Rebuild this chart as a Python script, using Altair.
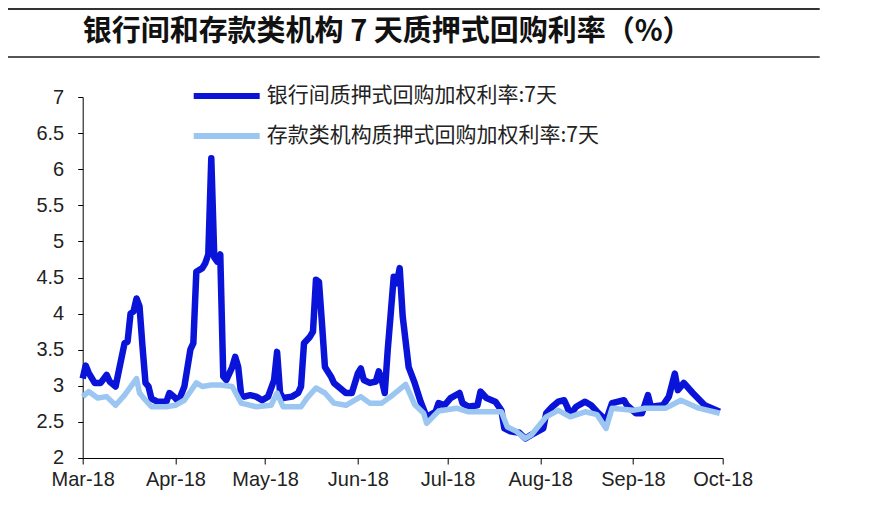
import altair as alt
import pandas as pd

title_text = "银行间和存款类机构 7 天质押式回购利率（%）"
s1 = "银行间质押式回购加权利率:7天"
s2 = "存款类机构质押式回购加权利率:7天"

ib_dates = [
    "2018-03-01", "2018-03-02", "2018-03-03", "2018-03-05", "2018-03-07", "2018-03-09",
    "2018-03-10", "2018-03-12", "2018-03-15", "2018-03-16", "2018-03-17", "2018-03-18",
    "2018-03-19", "2018-03-20", "2018-03-21", "2018-03-22", "2018-03-23", "2018-03-24",
    "2018-03-26", "2018-03-29", "2018-03-30", "2018-04-01", "2018-04-02", "2018-04-04",
    "2018-04-06", "2018-04-07", "2018-04-08", "2018-04-10", "2018-04-11", "2018-04-12",
    "2018-04-13", "2018-04-14", "2018-04-15", "2018-04-16", "2018-04-17", "2018-04-18",
    "2018-04-20", "2018-04-21", "2018-04-22", "2018-04-23", "2018-04-24", "2018-04-26",
    "2018-04-28", "2018-04-30", "2018-05-02", "2018-05-04", "2018-05-05", "2018-05-06",
    "2018-05-07", "2018-05-10", "2018-05-12", "2018-05-13", "2018-05-14", "2018-05-16",
    "2018-05-17", "2018-05-18", "2018-05-19", "2018-05-20", "2018-05-21", "2018-05-23",
    "2018-05-24", "2018-05-26", "2018-05-28", "2018-05-30", "2018-06-01", "2018-06-02",
    "2018-06-03", "2018-06-05", "2018-06-07", "2018-06-08", "2018-06-09", "2018-06-10",
    "2018-06-11", "2018-06-12", "2018-06-13", "2018-06-14", "2018-06-15", "2018-06-16",
    "2018-06-18", "2018-06-20", "2018-06-22", "2018-06-24", "2018-06-27", "2018-06-28",
    "2018-06-30", "2018-07-02", "2018-07-05", "2018-07-06", "2018-07-08", "2018-07-11",
    "2018-07-12", "2018-07-14", "2018-07-17", "2018-07-19", "2018-07-20", "2018-07-22",
    "2018-07-25", "2018-07-27", "2018-07-29", "2018-08-02", "2018-08-03", "2018-08-05",
    "2018-08-07", "2018-08-09", "2018-08-10", "2018-08-11", "2018-08-13", "2018-08-16",
    "2018-08-18", "2018-08-20", "2018-08-23", "2018-08-25", "2018-08-27", "2018-08-29",
    "2018-08-30", "2018-09-02", "2018-09-04", "2018-09-06", "2018-09-07", "2018-09-11",
    "2018-09-13", "2018-09-15", "2018-09-16", "2018-09-18", "2018-09-21", "2018-09-25",
    "2018-09-30",
]
ib_vals = [
    3.10, 3.28, 3.18, 3.04, 3.04, 3.15,
    3.06, 2.99, 3.59, 3.61, 4.00, 4.03,
    4.21, 4.10, 3.54, 3.04, 2.99, 2.82,
    2.78, 2.78, 2.90, 2.83, 2.78, 2.99,
    3.50, 3.59, 4.58, 4.63, 4.70, 4.82,
    6.15, 4.78, 4.72, 4.82, 3.13, 3.08,
    3.26, 3.40, 3.26, 2.87, 2.85, 2.87,
    2.85, 2.80, 2.85, 3.08, 3.47, 2.90,
    2.83, 2.85, 2.90, 2.99, 3.59, 3.68,
    3.75, 4.47, 4.44, 3.87, 3.26, 3.13,
    3.04, 2.97, 2.90, 2.90, 3.17, 3.24,
    3.08, 3.04, 3.06, 3.20, 3.08, 2.90,
    3.50, 4.00, 4.51, 4.42, 4.63, 3.96,
    3.26, 3.04, 2.78, 2.57, 2.64, 2.76,
    2.73, 2.83, 2.90, 2.76, 2.71, 2.73,
    2.92, 2.83, 2.78, 2.66, 2.41, 2.37,
    2.35, 2.27, 2.32, 2.41, 2.62, 2.71,
    2.78, 2.80, 2.71, 2.60, 2.71, 2.78,
    2.73, 2.64, 2.52, 2.76, 2.78, 2.80,
    2.73, 2.62, 2.62, 2.87, 2.71, 2.73,
    2.85, 3.17, 2.94, 3.04, 2.90, 2.73,
    2.64,
]

dep_dates = [
    "2018-03-01", "2018-03-03", "2018-03-06", "2018-03-09", "2018-03-12", "2018-03-15",
    "2018-03-19", "2018-03-20", "2018-03-22", "2018-03-24", "2018-03-29", "2018-04-01",
    "2018-04-04", "2018-04-08", "2018-04-10", "2018-04-13", "2018-04-16", "2018-04-20",
    "2018-04-23", "2018-04-28", "2018-05-03", "2018-05-05", "2018-05-07", "2018-05-13",
    "2018-05-15", "2018-05-18", "2018-05-21", "2018-05-24", "2018-05-28", "2018-06-02",
    "2018-06-05", "2018-06-09", "2018-06-12", "2018-06-17", "2018-06-20", "2018-06-23",
    "2018-06-24", "2018-06-28", "2018-07-04", "2018-07-08", "2018-07-12", "2018-07-19",
    "2018-07-21", "2018-07-24", "2018-07-27", "2018-07-29", "2018-08-03", "2018-08-07",
    "2018-08-11", "2018-08-16", "2018-08-20", "2018-08-23", "2018-08-25", "2018-09-01",
    "2018-09-05", "2018-09-12", "2018-09-17", "2018-09-23", "2018-09-30",
]
dep_vals = [
    2.85, 2.92, 2.83, 2.85, 2.73, 2.87,
    3.10, 2.90, 2.80, 2.71, 2.71, 2.73,
    2.80, 3.04, 2.99, 3.01, 3.01, 2.99,
    2.76, 2.71, 2.73, 2.90, 2.71, 2.71,
    2.83, 2.97, 2.90, 2.76, 2.73, 2.85,
    2.76, 2.76, 2.85, 3.02, 2.74, 2.62,
    2.48, 2.65, 2.69, 2.64, 2.64, 2.64,
    2.43, 2.37, 2.27, 2.32, 2.57, 2.66,
    2.57, 2.64, 2.60, 2.41, 2.69, 2.66,
    2.69, 2.69, 2.80, 2.69, 2.62,
]

y_ticks = [2, 2.5, 3, 3.5, 4, 4.5, 5, 5.5, 6, 6.5, 7]
x_tick_months = [3, 4, 5, 6, 7, 8, 9, 10]

df_ib = pd.DataFrame({"date": ib_dates, "value": ib_vals, "series": s1})
df_dep = pd.DataFrame({"date": dep_dates, "value": dep_vals, "series": s2})

color_scale = alt.Scale(domain=[s1, s2], range=["#0a14d8", "#9cc6f2"])
legend = alt.Legend(
    title=None, orient="none", legendX=131, legendY=-14,
    symbolType="M-3.3,0H3.3", symbolSize=400, symbolStrokeWidth=6,
    labelFontSize=21, labelFont="Noto Sans CJK SC", labelColor="#222",
    rowPadding=15, padding=0, labelOffset=27, labelLimit=600,
)

x_enc = alt.X(
    "date:T",
    scale=alt.Scale(
        type="utc",
        domain=[alt.DateTime(year=2018, month=3, date=1, utc=True),
                alt.DateTime(year=2018, month=10, date=1, utc=True)],
    ),
    axis=alt.Axis(
        values=[alt.DateTime(year=2018, month=m, date=1, utc=True) for m in x_tick_months],
        format="%b-%y", title=None, tickSize=6, labelPadding=6,
        labelOverlap=False, labelFlush=False, labelAlign="center",
    ),
)
y_enc = alt.Y(
    "value:Q",
    scale=alt.Scale(domain=[2, 7], nice=False, zero=False),
    axis=alt.Axis(values=y_ticks, format="~g", title=None, tickSize=5, labelPadding=14,
                  labelOverlap=False, labelFlush=False),
)

dark = alt.Chart(df_ib).mark_line(strokeWidth=6.5, strokeJoin="round").encode(
    x=x_enc, y=y_enc, color=alt.Color("series:N", scale=color_scale, legend=legend)
)
light = alt.Chart(df_dep).mark_line(strokeWidth=5.5, strokeJoin="round").encode(
    x=x_enc, y=y_enc, color=alt.Color("series:N", scale=color_scale, legend=legend)
)

one = pd.DataFrame({"t": [title_text]})
title = alt.Chart(one).mark_text(
    align="left", baseline="middle", fontSize=29, fontWeight="bold",
    font="Noto Sans CJK SC", color="#111",
).encode(x=alt.value(0), y=alt.value(-65), text="t:N")
rule_top = alt.Chart(one).mark_rule(color="#333", strokeWidth=2).encode(
    x=alt.value(-75), x2=alt.value(737), y=alt.value(-88)
)
rule_bot = alt.Chart(one).mark_rule(color="#555", strokeWidth=2).encode(
    x=alt.value(-75), x2=alt.value(737), y=alt.value(-40)
)

chart = alt.layer(rule_top, rule_bot, title, dark, light).properties(
    width=640, height=361,
    padding={"left": 74.7, "top": 89, "right": 140, "bottom": 40},
    autosize="none",
).configure_view(stroke=None).configure_axis(
    grid=False, domainColor="black", tickColor="black",
    labelFont="Liberation Sans", labelFontSize=20, labelColor="#222",
)

chart.save("out.html", embed_options={"renderer": "svg", "actions": False})
